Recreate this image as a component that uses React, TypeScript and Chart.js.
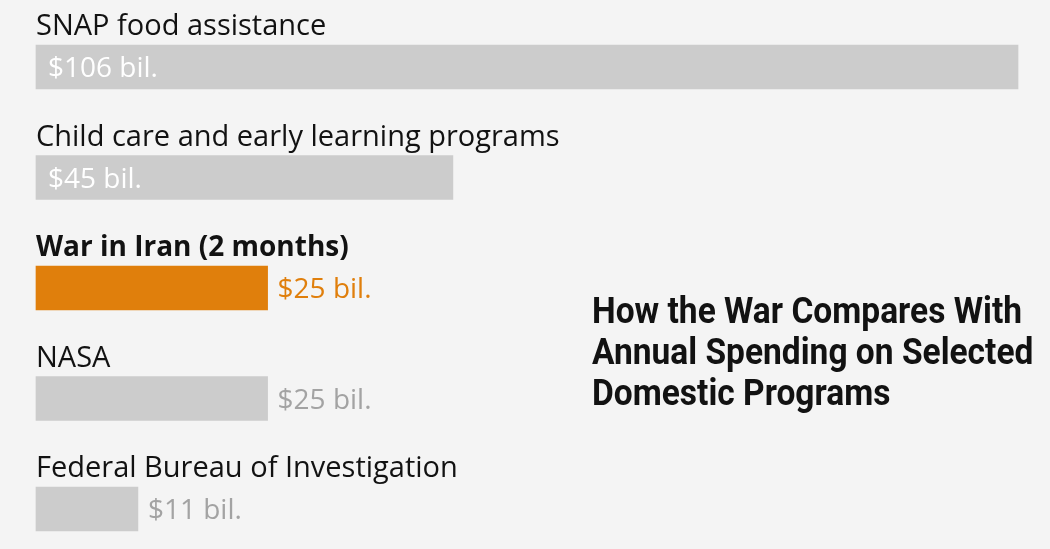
import React, { useEffect, useRef } from "react";
import { Chart, registerables } from "chart.js";

Chart.register(...registerables);

const categories = [
  "SNAP food assistance",
  "Child care and early learning programs",
  "War in Iran (2 months)",
  "NASA",
  "Federal Bureau of Investigation",
];
const values = [106, 45, 25, 25, 11];
const valueLabels = ["$106 bil.", "$45 bil.", "$25 bil.", "$25 bil.", "$11 bil."];
const highlight = [false, false, true, false, false];
const titleLines = [
  "How the War Compares With",
  "Annual Spending on Selected",
  "Domestic Programs",
];

const BG = "#f4f4f4";
const GRAY = "#cccccc";
const ORANGE = "#e07f0c";
const SANS = "'Open Sans', 'Liberation Sans', Arial, sans-serif";
const HEAD = "Roboto, 'Liberation Sans', sans-serif";

const labelPlugin = {
  id: "labelPlugin",
  beforeDraw(chart: any) {
    const { ctx, width, height } = chart;
    ctx.save();
    ctx.fillStyle = BG;
    ctx.fillRect(0, 0, width, height);
    ctx.restore();
  },
  afterDatasetsDraw(chart: any) {
    const { ctx } = chart;
    const meta = chart.getDatasetMeta(0);
    const x0 = chart.scales.x.getPixelForValue(0);
    ctx.save();
    meta.data.forEach((bar: any, i: number) => {
      const top = bar.y - bar.height / 2;
      ctx.textAlign = "left";
      ctx.textBaseline = "alphabetic";
      ctx.fillStyle = "#121212";
      ctx.font = highlight[i] ? `bold 28px ${SANS}` : `29px ${SANS}`;
      ctx.fillText(categories[i], x0, top - 10);
      ctx.font = `28px ${SANS}`;
      const inside = values[i] > 30;
      if (inside) {
        ctx.fillStyle = "#ffffff";
        ctx.fillText(valueLabels[i], x0 + 12, bar.y + 10);
      } else {
        ctx.fillStyle = highlight[i] ? ORANGE : "#a3a3a3";
        ctx.fillText(valueLabels[i], bar.x + 10, bar.y + 10);
      }
    });
    ctx.fillStyle = "#121212";
    ctx.font = `bold 36px ${HEAD}`;
    const w = ctx.measureText(titleLines[0]).width;
    const sx = 430 / w;
    titleLines.forEach((t, i) => {
      ctx.save();
      ctx.translate(592, 323 + i * 41);
      ctx.scale(sx, 1);
      ctx.fillText(t, 0, 0);
      ctx.restore();
    });
    ctx.restore();
  },
};

export default function App() {
  const ref = useRef<HTMLCanvasElement>(null);
  useEffect(() => {
    document.body.style.margin = "0";
    document.body.style.background = BG;
    const chart = new Chart(ref.current!, {
      type: "bar",
      data: {
        labels: categories,
        datasets: [
          {
            data: values,
            backgroundColor: highlight.map((h) => (h ? ORANGE : GRAY)),
            barThickness: 44,
            clip: false as any,
          },
        ],
      },
      options: {
        indexAxis: "y",
        animation: false,
        responsive: false,
        maintainAspectRatio: false,
        layout: { padding: { left: 36, right: 32, top: 67, bottom: 40 } },
        plugins: { legend: { display: false }, tooltip: { enabled: false }, title: { display: false } },
        scales: {
          x: { display: false, min: 0, max: Math.max(...values) },
          y: { display: false, offset: false },
        },
      },
      plugins: [labelPlugin],
    });
    return () => chart.destroy();
  }, []);
  return (
    <div style={{ position: "absolute", left: 0, top: 0, width: 1050, height: 549, background: BG }}>
      <canvas ref={ref} width={1050} height={549} />
    </div>
  );
}
